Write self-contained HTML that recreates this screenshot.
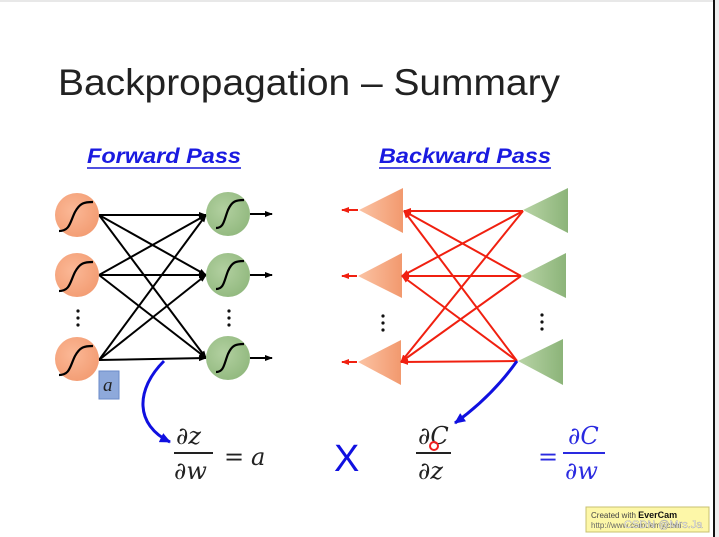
<!DOCTYPE html>
<html><head><meta charset="utf-8"><style>
html,body{margin:0;padding:0;background:#fff;}
svg{display:block;}
</style></head><body>
<svg width="719" height="537" viewBox="0 0 719 537" xmlns="http://www.w3.org/2000/svg" font-family="Liberation Sans, sans-serif">
<defs>
<marker id="ab" markerWidth="8" markerHeight="8" refX="7" refY="4" orient="auto" markerUnits="userSpaceOnUse"><path d="M0,1 L8,4 L0,7 z" fill="#000"/></marker>
<marker id="ar" markerWidth="8" markerHeight="8" refX="7" refY="4" orient="auto" markerUnits="userSpaceOnUse"><path d="M0,1 L8,4 L0,7 z" fill="#f02010"/></marker>
<marker id="abl" markerWidth="12" markerHeight="12" refX="10" refY="6" orient="auto" markerUnits="userSpaceOnUse"><path d="M0,1 L11,6 L0,11 z" fill="#1010e0"/></marker>
<radialGradient id="go" cx="0.4" cy="0.4" r="0.7"><stop offset="0" stop-color="#fbb896"/><stop offset="1" stop-color="#f29a70"/></radialGradient>
<radialGradient id="gg" cx="0.4" cy="0.4" r="0.7"><stop offset="0" stop-color="#b2d0a0"/><stop offset="1" stop-color="#8fb77c"/></radialGradient>
<linearGradient id="to" x1="0" x2="1"><stop offset="0" stop-color="#fbc3a4"/><stop offset="1" stop-color="#f2996e"/></linearGradient>
<linearGradient id="tg" x1="0" x2="1"><stop offset="0" stop-color="#b8d4a6"/><stop offset="1" stop-color="#8cb479"/></linearGradient>
</defs>
<rect x="0" y="0" width="719" height="2" fill="#e8e8e8"/>
<rect x="713" y="0" width="2" height="537" fill="#111"/>
<rect x="715" y="0" width="4" height="537" fill="#eee"/>

<text x="58" y="95" font-size="37" fill="#222" textLength="502" lengthAdjust="spacingAndGlyphs">Backpropagation – Summary</text>
<text x="87" y="163" font-size="21" font-weight="bold" font-style="italic" fill="#1a1ae0" textLength="154" lengthAdjust="spacingAndGlyphs">Forward Pass</text>
<rect x="87" y="167" width="154" height="2" fill="#5050e0"/>
<text x="379" y="163" font-size="21" font-weight="bold" font-style="italic" fill="#1a1ae0" textLength="172" lengthAdjust="spacingAndGlyphs">Backward Pass</text>
<rect x="379" y="167" width="172" height="2" fill="#5050e0"/>

<!-- forward edges -->
<g stroke="#000" stroke-width="2" marker-end="url(#ab)">
<line x1="99" y1="215" x2="206" y2="215"/>
<line x1="99" y1="215" x2="206" y2="275"/>
<line x1="99" y1="215" x2="206" y2="358"/>
<line x1="99" y1="275" x2="206" y2="215"/>
<line x1="99" y1="275" x2="206" y2="275"/>
<line x1="99" y1="275" x2="206" y2="358"/>
<line x1="99" y1="360" x2="206" y2="215"/>
<line x1="99" y1="360" x2="206" y2="275"/>
<line x1="99" y1="360" x2="206" y2="358"/>
<line x1="250" y1="214" x2="272" y2="214"/>
<line x1="250" y1="275" x2="272" y2="275"/>
<line x1="250" y1="358" x2="272" y2="358"/>
</g>
<g stroke="#000" stroke-width="2.2" fill="none">
<circle cx="77" cy="215" r="22" fill="url(#go)" stroke="none"/>
<circle cx="77" cy="275" r="22" fill="url(#go)" stroke="none"/>
<circle cx="77" cy="359" r="22" fill="url(#go)" stroke="none"/>
<circle cx="228" cy="214" r="22" fill="url(#gg)" stroke="none"/>
<circle cx="228" cy="275" r="22" fill="url(#gg)" stroke="none"/>
<circle cx="228" cy="358" r="22" fill="url(#gg)" stroke="none"/>
<path d="M59,231 C70,231 70,222 75,212 C80,203 84,202 93,202"/>
<path d="M59,291 C70,291 70,282 75,272 C80,263 84,262 93,262"/>
<path d="M59,375 C70,375 70,366 75,356 C80,347 84,346 93,346"/>
<path d="M216,228 C224,228 224,220 228,210 C232,201 236,200 244,200"/>
<path d="M216,289 C224,289 224,281 228,271 C232,262 236,261 244,261"/>
<path d="M216,372 C224,372 224,364 228,354 C232,345 236,344 244,344"/>
</g>
<g fill="#111">
<circle cx="78" cy="311" r="1.6"/><circle cx="78" cy="318" r="1.6"/><circle cx="78" cy="325" r="1.6"/>
<circle cx="229" cy="311" r="1.6"/><circle cx="229" cy="318" r="1.6"/><circle cx="229" cy="325" r="1.6"/>
<circle cx="383" cy="316" r="1.6"/><circle cx="383" cy="323" r="1.6"/><circle cx="383" cy="330" r="1.6"/>
<circle cx="542" cy="315" r="1.6"/><circle cx="542" cy="322" r="1.6"/><circle cx="542" cy="329" r="1.6"/>
</g>
<rect x="99" y="371" width="20" height="28" fill="#8ea9db" stroke="#6a8ac8"/>
<text x="103" y="391" font-size="19" font-style="italic" font-family="Liberation Serif, serif" fill="#222">a</text>

<!-- backward -->
<polygon points="359,210 403,188 403,233" fill="url(#to)"/>
<polygon points="358,276 402,253 402,298" fill="url(#to)"/>
<polygon points="358,362 401,340 401,385" fill="url(#to)"/>
<polygon points="523,210 568,188 568,233" fill="url(#tg)"/>
<polygon points="521,276 566,253 566,298" fill="url(#tg)"/>
<polygon points="518,361 563,339 563,385" fill="url(#tg)"/>
<g stroke="#f02010" stroke-width="2" marker-end="url(#ar)">
<line x1="523" y1="211" x2="404" y2="211"/>
<line x1="523" y1="211" x2="402" y2="276"/>
<line x1="523" y1="211" x2="401" y2="362"/>
<line x1="521" y1="276" x2="404" y2="211"/>
<line x1="521" y1="276" x2="402" y2="276"/>
<line x1="521" y1="276" x2="401" y2="362"/>
<line x1="517" y1="361" x2="404" y2="211"/>
<line x1="517" y1="361" x2="402" y2="276"/>
<line x1="517" y1="361" x2="401" y2="362"/>
<line x1="358" y1="210" x2="342" y2="210"/>
<line x1="357" y1="276" x2="342" y2="276"/>
<line x1="357" y1="362" x2="342" y2="362"/>
</g>

<!-- blue arrows -->
<path d="M164,361 C135,390 135,425 170,442" stroke="#1010e0" stroke-width="3" fill="none" marker-end="url(#abl)"/>
<path d="M517,361 C500,385 480,405 455,423" stroke="#1010e0" stroke-width="3" fill="none" marker-end="url(#abl)"/>

<!-- formulas -->
<g font-family="DejaVu Serif, Liberation Serif, serif" font-style="italic" font-size="24" fill="#222">
<text x="176" y="444">∂z</text>
<rect x="174" y="452" width="39" height="2" fill="#222"/>
<text x="174" y="479">∂w</text>
<text x="224" y="465" font-style="normal">=</text>
<text x="251" y="465">a</text>
<text x="418" y="444">∂C</text>
<rect x="416" y="452" width="35" height="2" fill="#222"/>
<text x="418" y="479">∂z</text>
</g>
<circle cx="434" cy="446" r="4" fill="none" stroke="#f02020" stroke-width="2"/>
<text x="334" y="471" font-size="38" fill="#1010e0">X</text>
<g font-family="DejaVu Serif, Liberation Serif, serif" font-style="italic" font-size="24" fill="#2a2ae0">
<text x="538" y="465" font-style="normal">=</text>
<text x="568" y="444">∂C</text>
<rect x="563" y="452" width="42" height="2" fill="#2a2ae0"/>
<text x="565" y="479">∂w</text>
</g>

<rect x="586" y="507" width="123" height="25" fill="#fdf7a8" stroke="#c8c070"/>
<text x="591" y="518" font-size="8" fill="#444">Created with <tspan font-weight="bold" fill="#111" font-size="9">EverCam</tspan></text>
<text x="591" y="528" font-size="8" fill="#666">http://www.camdemy.com</text>
<text x="624" y="528" font-size="11" fill="#fff" stroke="#888" stroke-width="0.3">CSDN @Mrs.Ja</text>
</svg>
</body></html>
